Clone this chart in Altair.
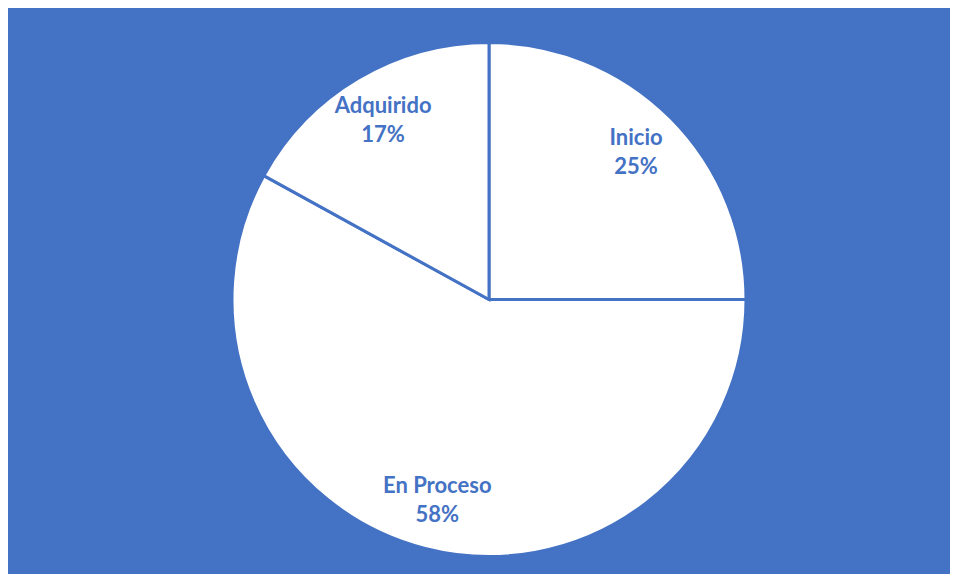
import altair as alt
import pandas as pd

categories = ["Inicio", "En Proceso", "Adquirido"]
percentages = [25, 58, 17]
order = [1, 2, 3]

df = pd.DataFrame({
    "categoria": categories,
    "porcentaje": percentages,
    "orden": order,
})
df["etiqueta"] = df["categoria"] + "\n" + df["porcentaje"].astype(str) + "%"

blue = "#4472C4"

base = alt.Chart(df).encode(
    theta=alt.Theta("porcentaje:Q", stack=True),
    order=alt.Order("orden:Q"),
)

pie = base.mark_arc(
    outerRadius=257, fill="white", stroke=blue, strokeWidth=3
)

labels = base.mark_text(
    radius=208,
    lineBreak="\n",
    fontSize=22,
    fontWeight="bold",
    font="Lato",
    color=blue,
    lineHeight=29,
    baseline="middle",
    align="center",
    dy=-14.5,
).encode(text="etiqueta:N")

chart = (
    (pie + labels)
    .properties(
        width=942,
        height=566,
        background=blue,
        padding={"left": 20, "right": 0, "top": 17, "bottom": 0},
        autosize=alt.AutoSizeParams(type="fit", contains="padding"),
    )
    .configure_view(stroke=None)
)

chart.save("out.html", embed_options={"renderer": "svg", "actions": False})
